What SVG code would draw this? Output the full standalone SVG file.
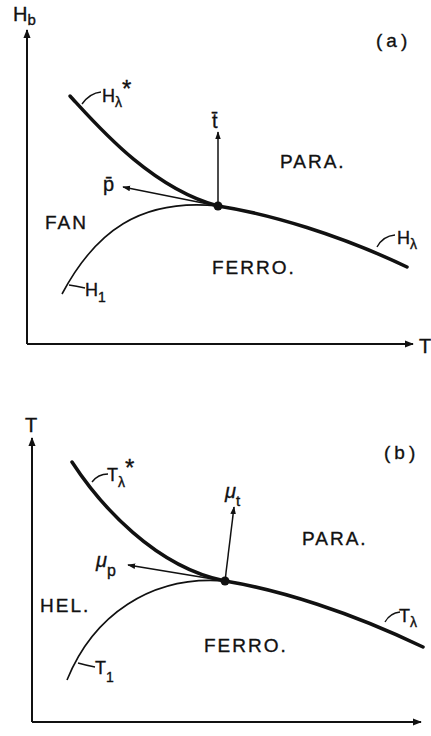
<svg xmlns="http://www.w3.org/2000/svg" width="431" height="736" viewBox="0 0 431 736">
<style>
text{font-family:"Liberation Sans",Arial,sans-serif;fill:#111;stroke:#111;stroke-width:0.35}
.reg{font-size:19px;letter-spacing:2px}
.lab{font-size:18px}
.sub{font-size:14px}
.star{font-size:24px}
.axis{stroke:#111;stroke-width:2;fill:none}
.thick{stroke:#111;stroke-width:3.5;fill:none;stroke-linecap:round}
.thin{stroke:#111;stroke-width:1.6;fill:none}
.vec{stroke:#111;stroke-width:1.5;fill:none}
.lead{stroke:#111;stroke-width:1.4;fill:none}
</style>
<defs>
<marker id="ah" viewBox="0 0 10 10" refX="9" refY="5" markerWidth="9" markerHeight="9" markerUnits="userSpaceOnUse" orient="auto">
<path d="M0,1 L10,5 L0,9 Z" fill="#111"/>
</marker>
<marker id="ahs" viewBox="0 0 10 10" refX="9" refY="5" markerWidth="8" markerHeight="8" markerUnits="userSpaceOnUse" orient="auto">
<path d="M0,1.5 L10,5 L0,8.5 Z" fill="#111"/>
</marker>
</defs>

<g id="connectors">
<path class="axis" d="M27,344 L27,30" marker-end="url(#ah)"/>
<path class="axis" d="M27,344 L413,344" marker-end="url(#ah)"/>
<path class="thick" d="M70,96 C95,123 150,188 218,206"/>
<path class="thick" d="M218,206 C270,214 340,235 407,267"/>
<path class="thin" d="M62,294 C95,232 140,198 218,206"/>
<path class="vec" d="M218,206 L218,132" marker-end="url(#ahs)"/>
<path class="vec" d="M218,206 L123,187" marker-end="url(#ahs)"/>
<path class="lead" d="M82,104 Q90,93 101,92"/>
<path class="lead" d="M377,247 Q383,236 395,235"/>
<path class="lead" d="M69,285 Q76,286 85,288"/>
<path class="axis" d="M32,722 L32,438" marker-end="url(#ah)"/>
<path class="axis" d="M32,722 L421,722" marker-end="url(#ah)"/>
<path class="thick" d="M72,462 C100,505 155,567 225,581"/>
<path class="thick" d="M225,581 C280,590 350,612 423,647"/>
<path class="thin" d="M67,680 C93,616 150,575 225,581"/>
<path class="vec" d="M225,581 L234,507" marker-end="url(#ahs)"/>
<path class="vec" d="M225,581 L128,565" marker-end="url(#ahs)"/>
<path class="lead" d="M92,482 Q98,474 108,474"/>
<path class="lead" d="M385,622 Q390,613 400,612"/>
<path class="lead" d="M78,663 Q85,665 95,667"/>
</g>

<g id="critical-a"><circle cx="218" cy="206" r="4.5" fill="#111"/></g>
<g id="critical-b"><circle cx="225" cy="581" r="4.5" fill="#111"/></g>

<g id="axis-labels-a">
<text x="13" y="21" style="font-size:20px">H<tspan class="sub" style="font-size:15px" dy="4">b</tspan></text>
<text x="419" y="353" style="font-size:20px">T</text>
<text x="376" y="47" class="reg" style="letter-spacing:4px">(a)</text>
</g>
<g id="region-labels-a">
<text x="45" y="229" class="reg">FAN</text>
<text x="212" y="274" class="reg">FERRO.</text>
<text x="280" y="168" class="reg">PARA.</text>
</g>
<g id="curve-labels-a">
<text x="102" y="102" class="lab">H<tspan class="sub" dy="5">λ</tspan><tspan class="star" dy="-10">*</tspan></text>
<text x="397" y="244" class="lab">H<tspan class="sub" dy="5">λ</tspan></text>
<text x="85" y="296" class="lab">H<tspan class="sub" dy="6">1</tspan></text>
<text x="212" y="128" style="font-size:20px">t̄</text>
<text x="103" y="191" style="font-size:20px">p̄</text>
</g>

<g id="axis-labels-b">
<text x="25" y="432" style="font-size:20px">T</text>
<text x="384" y="459" class="reg" style="letter-spacing:4px">(b)</text>
</g>
<g id="region-labels-b">
<text x="40" y="612" class="reg">HEL.</text>
<text x="204" y="652" class="reg">FERRO.</text>
<text x="302" y="545" class="reg">PARA.</text>
</g>
<g id="curve-labels-b">
<text x="107" y="481" class="lab">T<tspan class="sub" dy="6">λ</tspan><tspan class="star" dy="-11">*</tspan></text>
<text x="399" y="622" class="lab">T<tspan class="sub" dy="5">λ</tspan></text>
<text x="95" y="674" class="lab">T<tspan class="sub" dy="8">1</tspan></text>
<text x="225" y="498" style="font-style:italic;font-size:20px">μ<tspan class="sub" style="font-style:normal;font-size:15px" dx="0" dy="8">t</tspan></text>
<text x="96" y="567" style="font-style:italic;font-size:20px">μ<tspan style="font-style:normal;font-size:16px" dx="0" dy="9">p</tspan></text>
</g>
</svg>
